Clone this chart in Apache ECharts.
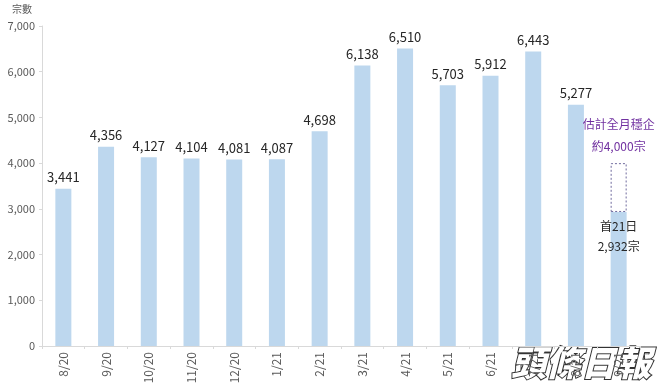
<!DOCTYPE html>
<html><head><meta charset="utf-8">
<script src="https://cdn.jsdelivr.net/npm/echarts@6/dist/echarts.min.js"></script>
<style>html,body{margin:0;padding:0;background:#fff}#c{width:662px;height:392px}</style>
</head><body><div id="c"></div>
<script>
const categories = ['8/20','9/20','10/20','11/20','12/20','1/21','2/21','3/21','4/21','5/21','6/21','7/21','8/21','9/21'];
const values = [3441,4356,4127,4104,4081,4087,4698,6138,6510,5703,5912,6443,5277,2932];
const estimateTotal = 4000;
const yTicks = {min:0, max:7000, interval:1000};

const estimateGap = categories.map((c,i)=> i===categories.length-1 ? estimateTotal - values[i] : null);
const last = categories.length-1;

const chart = echarts.init(document.getElementById('c'));
chart.setOption({
  animation:false,
  textStyle:{fontFamily:'"Noto Sans CJK TC","Noto Sans",sans-serif'},
  grid:{left:42,right:22,top:26,bottom:46},
  xAxis:{type:'category',data:categories,
    axisLine:{lineStyle:{color:'#d9d9d9'}},
    axisTick:{show:true,length:3,lineStyle:{color:'#d9d9d9'}},
    axisLabel:{rotate:90,color:'#595959',fontSize:12,margin:6}},
  yAxis:{type:'value',min:yTicks.min,max:yTicks.max,interval:yTicks.interval,
    name:'宗數',nameLocation:'end',nameGap:12,
    nameTextStyle:{color:'#595959',fontSize:10,align:'right',padding:[0,10,0,0]},
    axisLine:{show:true,lineStyle:{color:'#d9d9d9'}},
    axisTick:{show:true,length:3,lineStyle:{color:'#d9d9d9'}},
    splitLine:{show:false},
    axisLabel:{color:'#595959',fontSize:11,margin:7,formatter:v=>v.toLocaleString('en-US')}},
  series:[
    {type:'bar',stack:'a',barWidth:16,data:values.map((v,i)=>({value:v,
        label: i===last ? {show:true,position:'insideTop',distance:4,color:'#262626',fontSize:12,lineHeight:20,
          formatter:'首21日\n'+v.toLocaleString('en-US')+'宗'} : undefined})),
      itemStyle:{color:'#bdd7ee'},
      label:{show:true,position:'top',distance:5,color:'#262626',fontSize:13,
        formatter:p=>p.value.toLocaleString('en-US')}},
    {type:'bar',stack:'a',barWidth:16,data:estimateGap,
      itemStyle:{color:'rgba(255,255,255,0)',borderColor:'#6f6a9e',borderWidth:1,borderType:[2,2]},
      label:{show:true,position:'top',distance:6,color:'#7030a0',fontSize:12,lineHeight:22,
        formatter:'估計全月穩企\n約'+estimateTotal.toLocaleString('en-US')+'宗'}}
  ],
  graphic:[{type:'text',left:510,top:344,style:{text:'頭條日報',font:'italic 900 35px "Noto Sans CJK TC",sans-serif',
    fill:'#ffffff',stroke:'#333333',lineWidth:2}}]
});
</script></body></html>
